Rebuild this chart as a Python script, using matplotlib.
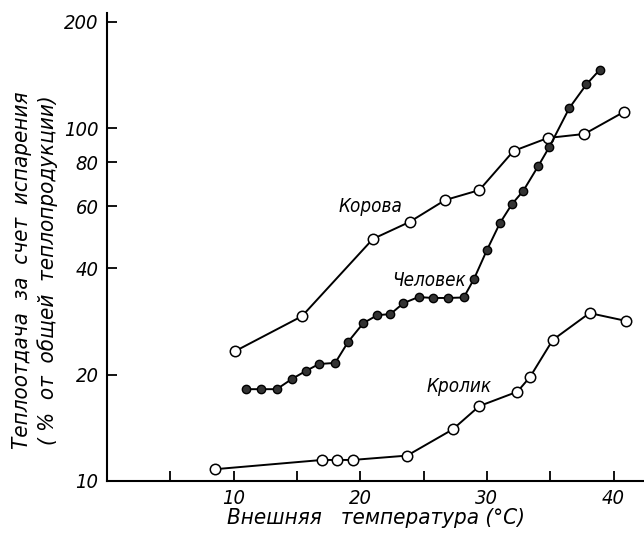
import numpy as np
import matplotlib.pyplot as plt
import matplotlib.font_manager as fm
from matplotlib.ticker import FixedLocator, FixedFormatter, NullLocator

# Корова
cow_t = [10.1, 15.4, 21.0, 23.9, 26.7, 29.4, 32.1, 34.8, 37.7, 40.8]
cow_v = [23.3, 29.3, 48.5, 54.2, 62.5, 66.7, 86.1, 93.7, 96.2, 111]

# Человек
man_t = [10.95, 12.14, 13.41, 14.60, 15.71, 16.75, 18.02, 19.05, 20.24, 21.35,
         22.38, 23.41, 24.60, 25.71, 26.90, 28.17, 28.97, 30.0, 31.03, 31.98,
         32.86, 34.05, 34.92, 36.51, 37.86, 38.89]
man_v = [18.2, 18.2, 18.2, 19.45, 20.5, 21.45, 21.6, 24.8, 28.0, 29.5,
         29.7, 31.9, 33.2, 33.0, 33.0, 33.1, 37.3, 45.1, 53.8, 60.9,
         66.3, 78.0, 88.3, 114, 133, 146]

# Кролик
rab_t = [8.57, 17.0, 18.2, 19.4, 23.7, 27.3, 29.4, 32.4, 33.4, 35.2, 38.1, 41.0]
rab_v = [10.8, 11.47, 11.47, 11.47, 11.8, 14.0, 16.3, 17.9, 19.7, 25.1, 29.9, 28.4]

xticks = [5, 10, 15, 20, 25, 30, 35, 40]
xlabels = ['', '10', '', '20', '', '30', '', '40']
yticks = [10, 20, 40, 60, 80, 100, 200]


# narrow italic face if one is installed, plain italic otherwise
def narrow_italic():
    for f in fm.fontManager.ttflist:
        p = f.fname.lower()
        if ('narrow' in p or 'condensed' in p) and 'bold' not in p \
                and f.style in ('italic', 'oblique'):
            return f.fname
    return None


path = narrow_italic()


def fp(size):
    if path:
        return fm.FontProperties(fname=path, size=size)
    return fm.FontProperties(family='DejaVu Sans', style='italic', size=size * 0.85)


fig = plt.figure(figsize=(6.44, 5.35), dpi=100)
ax = fig.add_axes([0.166, 0.101, 0.834, 0.875])
ax.set_yscale('log')

ax.plot(cow_t, cow_v, color='black', lw=1.4, marker='o', ms=7.5,
        mfc='white', mec='black', mew=1.1, zorder=3)
ax.plot(rab_t, rab_v, color='black', lw=1.4, marker='o', ms=7.5,
        mfc='white', mec='black', mew=1.1, zorder=3)
ax.plot(man_t, man_v, color='black', lw=1.4, marker='o', ms=6,
        mfc='#333333', mec='black', mew=1.0, zorder=4)

ax.set_xlim(0, 42.4)
ax.set_ylim(10, 212)

ax.spines['top'].set_visible(False)
ax.spines['right'].set_visible(False)
ax.spines['left'].set_linewidth(1.5)
ax.spines['bottom'].set_linewidth(1.5)

ax.xaxis.set_major_locator(FixedLocator(xticks))
ax.xaxis.set_major_formatter(FixedFormatter(xlabels))
ax.yaxis.set_major_locator(FixedLocator(yticks))
ax.yaxis.set_major_formatter(FixedFormatter([str(v) for v in yticks]))
ax.yaxis.set_minor_locator(NullLocator())
ax.tick_params(direction='in', length=7, width=1.3, pad=6)
for lab in ax.get_xticklabels() + ax.get_yticklabels():
    lab.set_fontproperties(fp(14.5))

ax.set_xlabel('Внешняя   температура (°С)', fontproperties=fp(16), labelpad=0)

# two-line axis title on the left
fig.text(35 / 644, 1 - 270 / 535,
         'Теплоотдача  за  счет  испарения\n( %  от  общей  теплопродукции)',
         fontproperties=fp(16), rotation=90, ha='center', va='center',
         multialignment='center', linespacing=1.3)

ax.text(18.3, 59.8, 'Корова', fontproperties=fp(13.5), va='center')
ax.text(22.5, 37.1, 'Человек', fontproperties=fp(13.5), va='center')
ax.text(25.2, 18.5, 'Кролик', fontproperties=fp(13.5), va='center')

fig.savefig('out.png', dpi=100)
